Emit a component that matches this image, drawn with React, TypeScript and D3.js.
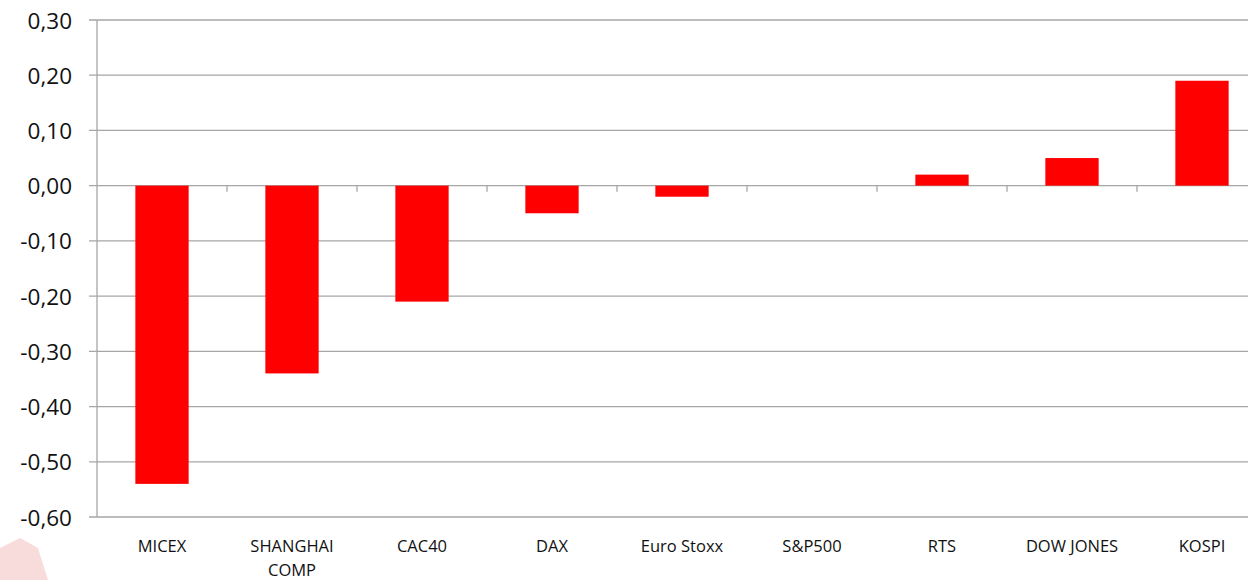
import React from "react";
import * as d3 from "d3";

const categories: string[][] = [
  ["MICEX"],
  ["SHANGHAI", "COMP"],
  ["CAC40"],
  ["DAX"],
  ["Euro Stoxx"],
  ["S&P500"],
  ["RTS"],
  ["DOW JONES"],
  ["KOSPI"],
];
const values: number[] = [-0.54, -0.34, -0.21, -0.05, -0.02, 0, 0.02, 0.05, 0.19];
const yTicks: number[] = [0.3, 0.2, 0.1, 0, -0.1, -0.2, -0.3, -0.4, -0.5, -0.6];

const W = 1248;
const H = 580;
const left = 97;
const bandW = 130;
const top = 20;
const bottom = 517;

export default function App() {
  const keys = categories.map((c) => c.join(" "));
  const x = d3
    .scaleBand<string>()
    .domain(keys)
    .range([left, left + bandW * keys.length])
    .paddingInner(0.59)
    .paddingOuter(0.295);
  const y = d3.scaleLinear().domain([-0.6, 0.3]).range([bottom, top]);
  const fmt = (v: number) => d3.format(".2f")(v).replace(".", ",").replace("−", "-");
  const font = "'Open Sans', sans-serif";
  const grid = "#a6a6a6";
  const y0 = y(0);

  return (
    <svg
      width={W}
      height={H}
      style={{ position: "absolute", left: 0, top: 0, background: "#fff" }}
    >
      <path d="M0,548 L20,538 L38,548 L48,580 L0,580 Z" fill="#f6d3d3" opacity={0.8} />
      {yTicks.map((t) => (
        <g key={t}>
          <line x1={89} x2={W} y1={y(t)} y2={y(t)} stroke={grid} strokeWidth={1.3} />
          <text
            x={72}
            y={y(t)}
            textAnchor="end"
            dominantBaseline="central"
            fontFamily={font}
            fontSize={22.5}
            fill="#111"
          >
            {fmt(t)}
          </text>
        </g>
      ))}
      <line x1={left} x2={left} y1={top} y2={bottom} stroke={grid} strokeWidth={1.3} />
      {keys.map((k, i) => (
        <line
          key={"t" + k}
          x1={left + bandW * (i + 1)}
          x2={left + bandW * (i + 1)}
          y1={y0}
          y2={y0 + 6}
          stroke={grid}
          strokeWidth={1.3}
        />
      ))}
      {values.map((v, i) => {
        const k = keys[i];
        const ya = y(Math.max(0, v));
        const yb = y(Math.min(0, v));
        return (
          <rect
            key={"b" + k}
            x={x(k)}
            y={ya}
            width={x.bandwidth()}
            height={Math.max(0, yb - ya)}
            fill="#ff0000"
          />
        );
      })}
      {categories.map((lines, i) => {
        const cx = (x(keys[i]) as number) + x.bandwidth() / 2;
        return (
          <text
            key={"l" + i}
            textAnchor="middle"
            fontFamily={font}
            fontSize={16.5}
            fill="#111"
          >
            {lines.map((ln, j) => (
              <tspan key={j} x={cx} y={552 + j * 23.5}>
                {ln}
              </tspan>
            ))}
          </text>
        );
      })}
    </svg>
  );
}
